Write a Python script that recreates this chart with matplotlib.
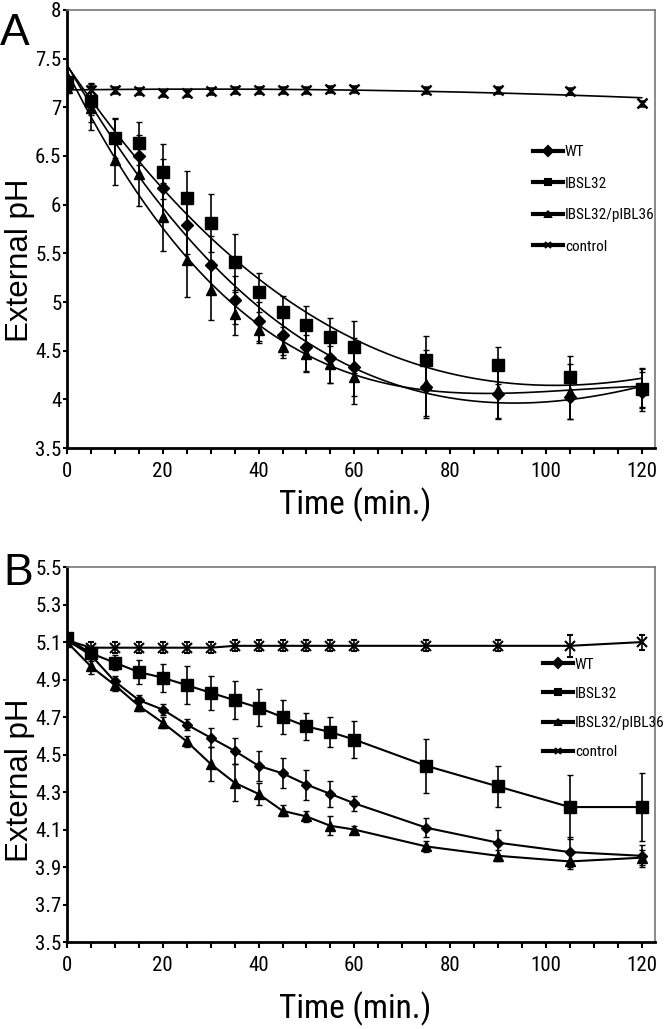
import numpy as np
import matplotlib
matplotlib.use('Agg')
import matplotlib.pyplot as plt
from matplotlib.lines import Line2D
from matplotlib import font_manager
from matplotlib.font_manager import FontProperties

# look for a narrow face; the chart text is condensed
narrow_file = None
for key in ['LiberationSansNarrow-Regular', 'RobotoCondensed-Regular', 'DejaVuSansCondensed.ttf',
            'OpenSans_Condensed', 'OpenSansCondensed']:
    for f in font_manager.fontManager.ttflist:
        if key.lower() in f.fname.lower().replace(' ', ''):
            narrow_file = f.fname
            break
    if narrow_file:
        break

plt.rcParams['font.family'] = ['Liberation Sans', 'DejaVu Sans']


def nfont(size):
    if narrow_file:
        return FontProperties(fname=narrow_file, size=size)
    return FontProperties(family=['Liberation Sans', 'DejaVu Sans'], size=size * 0.85)


# sampling times (min)
time = [0, 5, 10, 15, 20, 25, 30, 35, 40, 45, 50, 55, 60, 75, 90, 105, 120]

# panel A values
wt_a = [7.22, 7.05, 6.67, 6.50, 6.17, 5.79, 5.38, 5.02, 4.80, 4.66, 4.54, 4.42, 4.33, 4.13, 4.06, 4.02, 4.08]
wt_a_err = [0.05, 0.2, 0.22, 0.22, 0.3, 0.3, 0.3, 0.25, 0.2, 0.2, 0.25, 0.25, 0.3, 0.3, 0.25, 0.22, 0.2]
ibsl_a = [7.26, 7.07, 6.68, 6.63, 6.34, 6.07, 5.81, 5.41, 5.10, 4.90, 4.76, 4.64, 4.54, 4.40, 4.35, 4.23, 4.11]
ibsl_a_err = [0.05, 0.15, 0.2, 0.22, 0.28, 0.28, 0.3, 0.29, 0.2, 0.16, 0.2, 0.2, 0.27, 0.25, 0.19, 0.22, 0.2]
comp_a = [7.20, 6.99, 6.46, 6.32, 5.87, 5.43, 5.12, 4.88, 4.71, 4.54, 4.47, 4.36, 4.23, 4.16, 4.10, 4.08, 4.12]
comp_a_err = [0.05, 0.22, 0.26, 0.33, 0.35, 0.38, 0.3, 0.22, 0.13, 0.12, 0.19, 0.19, 0.28, 0.35, 0.3, 0.28, 0.2]
ctrl_a = [7.25, 7.18, 7.18, 7.17, 7.15, 7.15, 7.17, 7.18, 7.18, 7.18, 7.18, 7.19, 7.19, 7.18, 7.18, 7.17, 7.04]
ctrl_a_err = [0.03, 0.06, 0.03, 0.03, 0.03, 0.03, 0.03, 0.03, 0.03, 0.03, 0.03, 0.03, 0.03, 0.03, 0.03, 0.03, 0.03]

# panel B values
wt_b = [5.11, 5.03, 4.89, 4.79, 4.74, 4.66, 4.59, 4.52, 4.44, 4.40, 4.34, 4.29, 4.24, 4.11, 4.03, 3.98, 3.96]
wt_b_err = [0.02, 0.03, 0.03, 0.03, 0.03, 0.03, 0.05, 0.07, 0.08, 0.08, 0.08, 0.07, 0.04, 0.05, 0.07, 0.08, 0.06]
ibsl_b = [5.12, 5.04, 4.99, 4.94, 4.91, 4.87, 4.83, 4.79, 4.75, 4.70, 4.65, 4.62, 4.58, 4.44, 4.33, 4.22, 4.22]
ibsl_b_err = [0.03, 0.03, 0.04, 0.065, 0.075, 0.1, 0.09, 0.1, 0.1, 0.09, 0.07, 0.08, 0.1, 0.145, 0.11, 0.17, 0.18]
comp_b = [5.10, 4.97, 4.87, 4.76, 4.67, 4.57, 4.45, 4.35, 4.29, 4.20, 4.17, 4.12, 4.10, 4.01, 3.96, 3.93, 3.95]
comp_b_err = [0.02, 0.04, 0.03, 0.03, 0.03, 0.03, 0.09, 0.1, 0.06, 0.03, 0.03, 0.05, 0.02, 0.03, 0.03, 0.04, 0.04]
ctrl_b = [5.11, 5.07, 5.07, 5.07, 5.07, 5.07, 5.07, 5.08, 5.08, 5.08, 5.08, 5.08, 5.08, 5.08, 5.08, 5.08, 5.10]
ctrl_b_err = [0.02, 0.03, 0.03, 0.03, 0.03, 0.03, 0.03, 0.03, 0.03, 0.03, 0.03, 0.03, 0.03, 0.03, 0.03, 0.06, 0.04]

labels = ['WT', 'IBSL32', 'IBSL32/pIBL36', 'control']
markers = ['D', 's', '^', 'x']
msizes = [6, 8.5, 7.5, 7]

fig = plt.figure(figsize=(6.66, 10.29), dpi=100)
axA = fig.add_axes([0.1006, 0.5646, 0.883, 0.4257])
axB = fig.add_axes([0.1006, 0.0845, 0.883, 0.3644])


def style_axes(ax, ylo, yhi, ystep, fmt, ylab_y, xlab_y):
    ax.set_xlim(0, 122.8)
    ax.set_ylim(ylo, yhi)
    ax.set_xticks(np.arange(0, 121, 5), minor=True)
    ax.set_xticks(np.arange(0, 121, 20))
    yt = np.arange(ylo, yhi + 1e-6, ystep)
    ax.set_yticks(yt)
    ax.set_yticklabels([fmt(v) for v in yt])
    for s in ['left', 'bottom']:
        ax.spines[s].set_linewidth(2)
        ax.spines[s].set_color('black')
    for s in ['top', 'right']:
        ax.spines[s].set_linewidth(1.2)
        ax.spines[s].set_color('#777777')
    ax.tick_params(axis='x', which='both', direction='out', length=4, width=1.5, pad=6)
    ax.tick_params(axis='y', direction='out', length=3, width=1.5, pad=1)
    for lab in ax.get_xticklabels() + ax.get_yticklabels():
        lab.set_fontproperties(nfont(15))
    ax.set_xlabel('Time (min.)', fontproperties=nfont(24))
    ax.xaxis.set_label_coords(0.49, xlab_y)
    ax.set_ylabel('External pH', fontproperties=FontProperties(family=['Liberation Sans'], size=22.5))
    ax.yaxis.set_label_coords(-0.054, ylab_y)


def fmt_a(v):
    return ('%.1f' % v).rstrip('0').rstrip('.')


def fmt_b(v):
    return '%.1f' % v


# panel A: points with error bars and polynomial trend lines
t = np.array(time)
tt = np.linspace(0, 120, 200)
series_a = [(wt_a, wt_a_err), (ibsl_a, ibsl_a_err), (comp_a, comp_a_err), (ctrl_a, ctrl_a_err)]
for (y, e), m, ms in zip(series_a, markers, msizes):
    coef = np.polyfit(t, y, 3 if m != 'x' else 2)
    axA.plot(tt, np.polyval(coef, tt), color='black', lw=1.2, zorder=2)
    axA.errorbar(time, y, yerr=e, fmt=m, color='black', ms=ms, mew=1.8 if m == 'x' else 1,
                 ecolor='black', elinewidth=1.2, capsize=2.5, capthick=1.2, zorder=3)
style_axes(axA, 3.5, 8.0, 0.5, fmt_a, 0.429, -0.09)

# panel B: points joined by lines
series_b = [(wt_b, wt_b_err), (ibsl_b, ibsl_b_err), (comp_b, comp_b_err), (ctrl_b, ctrl_b_err)]
for (y, e), m, ms in zip(series_b, markers, msizes):
    axB.errorbar(time, y, yerr=e, fmt='-' + m, color='black', lw=1.5, ms=ms - 0.5,
                 mew=1.5 if m == 'x' else 1, ecolor='black', elinewidth=1.2,
                 capsize=2.5, capthick=1.2, zorder=3)
style_axes(axB, 3.5, 5.5, 0.2, fmt_b, 0.432, -0.133)

# legends
handles = [Line2D([], [], color='black', lw=3, marker=m, ms=5, mew=1.5) for m in markers]
fig.legend(handles, labels, loc='upper left', bbox_to_anchor=(0.800, 0.859), frameon=False,
           prop=nfont(11), handlelength=2.0, handletextpad=0.1, labelspacing=1.15, borderpad=0,
           borderaxespad=0)
fig.legend(handles, labels, loc='upper left', bbox_to_anchor=(0.815, 0.361), frameon=False,
           prop=nfont(11), handlelength=2.0, handletextpad=0.1, labelspacing=1.0, borderpad=0,
           borderaxespad=0)

# panel letters
fig.text(0.0, 0.987, 'A', fontsize=32, va='top', ha='left')
fig.text(0.005, 0.463, 'B', fontsize=32, va='top', ha='left')

fig.savefig('out.png', dpi=100)
